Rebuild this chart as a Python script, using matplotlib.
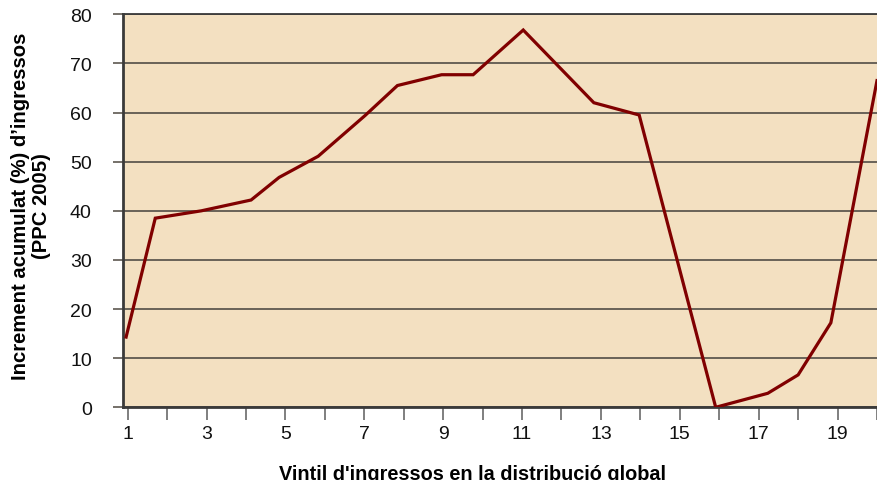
import matplotlib.pyplot as plt

# ventile positions and cumulative income growth (%)
vintil = [0.96, 1.70, 2.87, 4.13, 4.84, 5.83, 7.02, 7.84, 8.96, 9.76,
          11.03, 12.82, 13.97, 15.91, 17.23, 18.00, 18.83, 20.0]
increment = [14.3, 38.5, 40.0, 42.2, 46.8, 51.1, 59.4, 65.5, 67.7, 67.7,
             76.8, 62.0, 59.5, 0.0, 2.85, 6.6, 17.2, 66.5]

xticks = list(range(1, 21))
xlabels = [str(t) if t % 2 else "" for t in xticks]
yticks = list(range(0, 81, 10))

plt.rcParams['font.family'] = ['Liberation Sans', 'DejaVu Sans']

fig = plt.figure(figsize=(8.77, 4.81), dpi=100)
ax = fig.add_axes([122.7 / 877, 72.7 / 481, 1 - 122.7 / 877, 393.0 / 481])

ax.set_facecolor('#F3E0C1')
ax.plot(vintil, increment, color='#800000', lw=2.3, solid_joinstyle='miter', zorder=3)

ax.set_xlim(0.874, 19.89)
ax.set_ylim(0, 80)

ax.set_yticks(yticks)
ax.yaxis.grid(True, color='#5e5850', lw=1.3)
ax.set_axisbelow(True)
ax.tick_params(axis='y', length=7.2, width=1.2, color='#5e5850', pad=15,
               labelsize=14, labelcolor='#111111')

ax.set_xticks(xticks)
ax.set_xticklabels(xlabels)
ax.tick_params(axis='x', length=9, width=1.2, color='#6a6a6a', pad=4,
               labelsize=14, labelcolor='#111111')

ax.spines['right'].set_visible(False)
ax.spines['top'].set_color('#3a3a3a')
ax.spines['top'].set_linewidth(1.3)
ax.spines['left'].set_color('#3a3a3a')
ax.spines['left'].set_linewidth(2)
ax.spines['bottom'].set_color('#3a3a3a')
ax.spines['bottom'].set_linewidth(2)

fig.text(31 / 877, 1 - 206 / 481, "Increment acumulat (%) d\u2019ingressos\n(PPC 2005)",
         rotation=90, ha='center', va='center', fontsize=14.6, fontweight='bold',
         linespacing=1.1)
fig.text(472.9 / 877, 1.0 / 481, "Vintil d'ingressos en la distribució global",
         ha='center', va='baseline', fontsize=14.3, fontweight='bold')

fig.savefig('out.png', dpi=100)
